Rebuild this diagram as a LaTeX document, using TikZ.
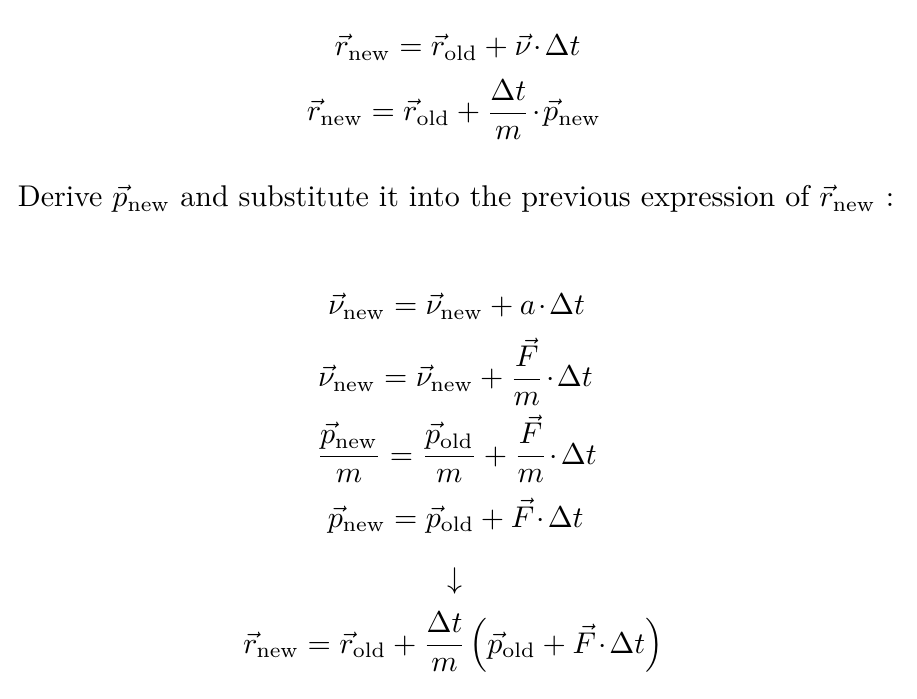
\documentclass[tikz,border=0pt]{standalone}
\usepackage{amsmath}
\newcommand\dt{\mskip1.5mu{\cdot}\mskip1.5mu}
\newcommand\dn[1]{\raisebox{0.8pt}{$#1$}}
\begin{document}
\begin{tikzpicture}[x=0.3335pt,y=-0.3335pt,
  eq/.style={anchor=base,inner sep=0pt,font=\fontsize{10}{12}\selectfont}]
\useasboundingbox (0,0) rectangle (917,699);
\node[eq] (l1) at (457.5,56) {$\vec{r}_{\mathrm{new}} = \vec{r}_{\mathrm{old}} + \vec{\nu}\dt\Delta t$};
\node[eq] (l2) at (454,121) {$\vec{r}_{\mathrm{new}} = \vec{r}_{\mathrm{old}} + \dfrac{\Delta t}{\dn{m}}\dt\vec{p}_{\mathrm{new}}$};
\node[eq] (l3) at (456,207) {Derive $\vec{p}_{\mathrm{new}}$ and substitute it into the previous expression of $\vec{r}_{\mathrm{new}}$ :};
\node[eq] (l4) at (456.5,315) {$\vec{\nu}_{\mathrm{new}} = \vec{\nu}_{\mathrm{new}} + a\dt\Delta t$};
\node[eq] (l5) at (455.5,387) {$\vec{\nu}_{\mathrm{new}} = \vec{\nu}_{\mathrm{new}} + \dfrac{\vec{F}}{\dn{m}}\dt\Delta t$};
\node[eq] (l6) at (456.5,464) {$\dfrac{\vec{p}_{\mathrm{new}}}{\dn{m}} = \dfrac{\vec{p}_{\mathrm{old}}}{\dn{m}} + \dfrac{\vec{F}}{\dn{m}}\dt\Delta t$};
\node[eq] (l7) at (455.7,527) {$\vec{p}_{\mathrm{new}} = \vec{p}_{\mathrm{old}} + \vec{F}\dt\Delta t$};
\node[eq] (ar) at (455,588) {$\downarrow$};
\node[eq] (l8) at (453,653) {$\vec{r}_{\mathrm{new}} = \vec{r}_{\mathrm{old}} + \dfrac{\Delta t}{\dn{m}}\mskip2mu\Bigl(\vec{p}_{\mathrm{old}} + \vec{F}\dt\Delta t\Bigr)$};
\end{tikzpicture}
\end{document}
